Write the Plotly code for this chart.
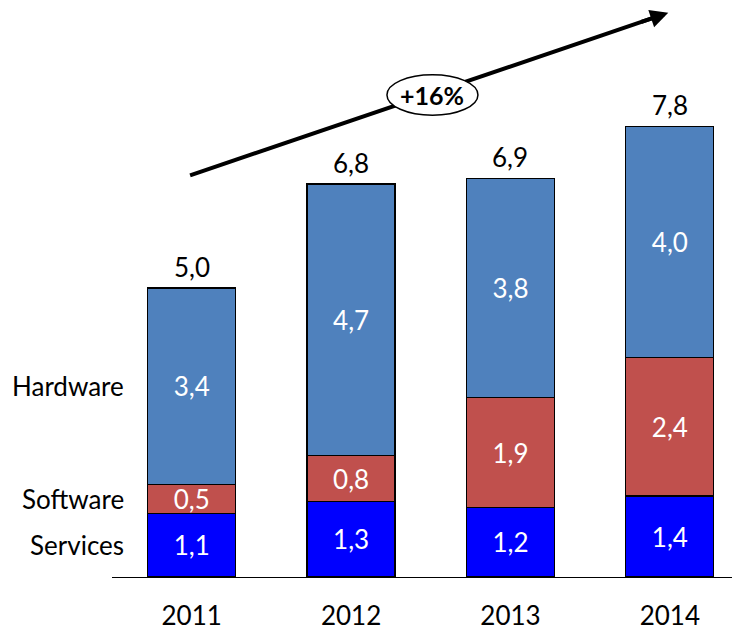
import plotly.graph_objects as go

years = ["2011", "2012", "2013", "2014"]
services = [1.1, 1.3, 1.2, 1.4]
software = [0.5, 0.8, 1.9, 2.4]
hardware = [3.4, 4.7, 3.8, 4.0]
totals = [5.0, 6.8, 6.9, 7.8]
series_names = ["Services", "Software", "Hardware"]
growth_label = "+16%"

FONT = "Lato"
FS = 26

def fmt(v):
    return f"{v:.1f}".replace(".", ",")

fig = go.Figure()
for name, vals, col in [("Services", services, "#0000FF"),
                        ("Software", software, "#C0504D"),
                        ("Hardware", hardware, "#4F81BD")]:
    fig.add_trace(go.Bar(
        x=years, y=vals, name=name,
        marker=dict(color=col, line=dict(color="#000000", width=1.2)),
        text=[fmt(v) for v in vals], textposition="inside",
        insidetextanchor="middle", constraintext="none",
        textfont=dict(family=FONT, size=FS, color="white"),
        hoverinfo="skip",
    ))

annotations = []
for i, t in enumerate(totals):
    annotations.append(dict(x=i, y=t, xref="x", yref="y", text=fmt(t),
                            showarrow=False, yanchor="bottom", yshift=3,
                            font=dict(family=FONT, size=FS, color="black")))

# left-side series labels aligned with first bar segments
cum = 0
for name, vals in zip(series_names, [services, software, hardware]):
    mid = cum + vals[0] / 2
    cum += vals[0]
    annotations.append(dict(xref="paper", x=0, xshift=14, y=mid, yref="y",
                            text=name, showarrow=False, xanchor="right",
                            font=dict(family=FONT, size=FS, color="black")))

# growth arrow: line as a shape (below the ellipse), head as a short annotation
arrow_start = (-0.01, 6.95)
arrow_tip = (2.99, 9.76)
annotations.append(dict(x=arrow_tip[0], y=arrow_tip[1], xref="x", yref="y",
                        ax=-28.4, ay=9.6, text="", showarrow=True,
                        arrowhead=2, arrowsize=0.9, arrowwidth=4,
                        arrowcolor="black"))
annotations.append(dict(x=1.51, y=8.34, xref="x", yref="y",
                        text=f"<b>{growth_label}</b>", showarrow=False,
                        font=dict(family=FONT, size=FS - 1, color="black")))

shapes = [
    dict(type="line", xref="x", yref="y",
         x0=arrow_start[0], y0=arrow_start[1],
         x1=arrow_tip[0] - 0.0715, y1=arrow_tip[1] - 0.0666,
         line=dict(color="black", width=4), layer="above"),
    dict(type="circle", xref="x", yref="y",
         x0=1.225, x1=1.796, y0=7.99, y1=8.69,
         fillcolor="white", line=dict(color="black", width=1.5),
         layer="above"),
]

fig.update_layout(
    width=732, height=626,
    margin=dict(l=104, r=0, t=0, b=57),
    paper_bgcolor="white", plot_bgcolor="white",
    barmode="stack", bargap=0.448,
    showlegend=False,
    annotations=annotations,
    shapes=shapes,
)
fig.update_xaxes(type="category", range=[-0.5, 3.44], showline=True,
                 linecolor="#000000", linewidth=1, ticks="",
                 ticklabelstandoff=16,
                 tickfont=dict(family=FONT, size=FS, color="black"),
                 showgrid=False, zeroline=False)
fig.update_yaxes(range=[0, 9.844], visible=False, showgrid=False,
                 zeroline=False)

fig.write_html("out.html")
